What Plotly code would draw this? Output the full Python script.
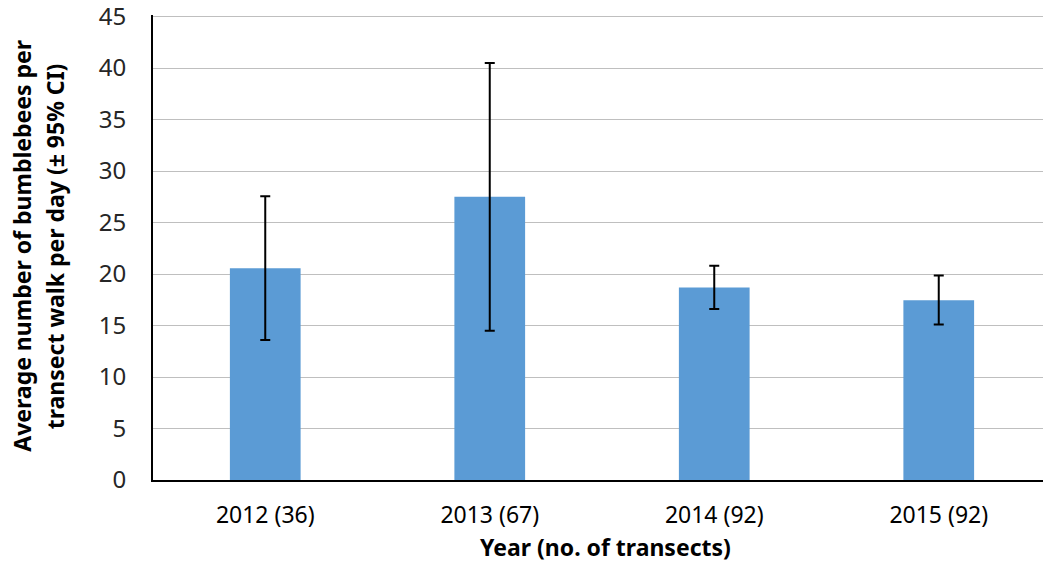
import plotly.graph_objects as go

categories = ["2012 (36)", "2013 (67)", "2014 (92)", "2015 (92)"]
means = [20.55, 27.5, 18.7, 17.45]
ci_plus = [7.0, 13.0, 2.1, 2.4]
ci_minus = [6.95, 13.0, 2.1, 2.35]
y_ticks = [0, 5, 10, 15, 20, 25, 30, 35, 40, 45]

fig = go.Figure()
fig.add_trace(go.Bar(
    x=categories, y=means,
    marker=dict(color="#5B9BD5", line=dict(width=0)),
    error_y=dict(type="data", symmetric=False, array=ci_plus, arrayminus=ci_minus,
                 color="black", thickness=2, width=5),
))

# page body has an 8px margin; compensate so the plot lands where the reference has it
OFF = 8
W, H = 1051 - OFF, 574 - OFF
L, R, T, B = 153 - OFF, 0, 14.5 - OFF, 94
pw = W - L - R
ph = H - T - B

def px_x(x):  # window x -> paper x
    return (x - OFF - L) / pw

def px_y(y):  # window y -> paper y
    return (H - B - (y - OFF)) / ph

fig.update_layout(
    width=W, height=H,
    margin=dict(l=L, r=R, t=T, b=B, autoexpand=False),
    paper_bgcolor="white", plot_bgcolor="white",
    bargap=0.685,
    showlegend=False,
    font=dict(family="Noto Sans, Open Sans, sans-serif", color="#262626"),
    xaxis=dict(
        automargin=False,
        showline=True, linecolor="black", linewidth=2,
        ticks="", showgrid=False,
        tickfont=dict(size=23, color="black"),
        ticklabelstandoff=13,
    ),
    yaxis=dict(
        automargin=False,
        range=[0, 45.15], tickvals=y_ticks,
        showline=True, linecolor="black", linewidth=2,
        showgrid=True, gridcolor="#BFBFBF", gridwidth=1,
        zeroline=False, ticks="",
        tickfont=dict(size=24, color="#262626"),
        ticklabelstandoff=20,
        ticklabeloverflow="allow",
    ),
    annotations=[
        dict(text="<b>Average number of bumblebees per</b>", textangle=-90,
             xref="paper", yref="paper", x=px_x(22.5), y=px_y(246),
             xanchor="center", yanchor="middle", showarrow=False,
             font=dict(size=23, color="black")),
        dict(text="<b>transect walk per day (± 95% CI)</b>", textangle=-90,
             xref="paper", yref="paper", x=px_x(55), y=px_y(246),
             xanchor="center", yanchor="middle", showarrow=False,
             font=dict(size=23, color="black")),
        dict(text="<b>Year (no. of transects)</b>",
             xref="paper", yref="paper", x=px_x(605), y=px_y(547),
             xanchor="center", yanchor="middle", showarrow=False,
             font=dict(size=23, color="black")),
    ],
)

fig.write_html("out.html")
